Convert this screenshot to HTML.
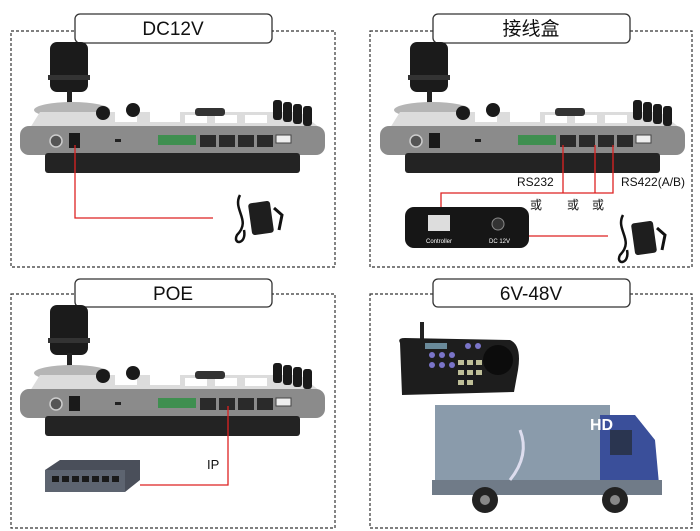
<!DOCTYPE html>
<html><head><meta charset="utf-8"><style>
html,body{margin:0;padding:0;background:#fff}
svg{display:block}
text{font-family:"Liberation Sans","Noto Sans CJK SC",sans-serif}
</style></head><body>
<svg width="700" height="531" viewBox="0 0 700 531" xmlns="http://www.w3.org/2000/svg">
<defs>
<g id="ctrl">
  <rect x="50" y="42" width="38" height="50" rx="7" fill="#1b1b1b"/>
  <rect x="48" y="75" width="42" height="5" fill="#333"/>
  <rect x="67" y="90" width="5" height="18" fill="#222"/>
  <ellipse cx="72" cy="110" rx="38" ry="8" fill="#b5b5b5"/>
  <path d="M30 128 L40 112 L300 112 L320 128 Z" fill="#dcdcdc"/>
  <rect x="115" y="112" width="22" height="10" fill="#fff"/>
  <rect x="150" y="112" width="30" height="10" fill="#fff"/>
  <rect x="185" y="115" width="22" height="8" fill="#fff"/>
  <rect x="215" y="115" width="22" height="8" fill="#fff"/>
  <rect x="245" y="115" width="22" height="8" fill="#fff"/>
  <rect x="195" y="108" width="30" height="8" rx="3" fill="#333"/>
  <circle cx="103" cy="113" r="7" fill="#1a1a1a"/>
  <circle cx="133" cy="110" r="7" fill="#1a1a1a"/>
  <rect x="273" y="100" width="9" height="20" rx="3" fill="#1a1a1a"/>
  <rect x="283" y="102" width="9" height="20" rx="3" fill="#1a1a1a"/>
  <rect x="293" y="104" width="9" height="20" rx="3" fill="#1a1a1a"/>
  <rect x="303" y="106" width="9" height="20" rx="3" fill="#1a1a1a"/>
  <rect x="20" y="126" width="305" height="29" rx="9" fill="#8b8b8b"/>
  <rect x="45" y="153" width="255" height="20" rx="3" fill="#232323"/>
  <circle cx="56" cy="141" r="6" fill="#555" stroke="#ccc" stroke-width="1.5"/>
  <rect x="69" y="133" width="11" height="15" fill="#1a1a1a"/>
  <rect x="115" y="139" width="6" height="3" fill="#222"/>
  <rect x="158" y="135" width="38" height="10" fill="#3f8f50"/>
  <rect x="200" y="135" width="16" height="12" fill="#2a2a2a"/>
  <rect x="219" y="135" width="16" height="12" fill="#2a2a2a"/>
  <rect x="238" y="135" width="16" height="12" fill="#2a2a2a"/>
  <rect x="257" y="135" width="16" height="12" fill="#2a2a2a"/>
  <rect x="276" y="135" width="15" height="8" fill="#eee" stroke="#444"/>
</g>
<g id="adapter">
  <path d="M8 5 C0 20 20 30 5 45 C0 55 15 55 12 40" stroke="#111" stroke-width="2.5" fill="none"/>
  <rect x="18" y="12" width="22" height="32" rx="3" fill="#1e1e1e" transform="rotate(-8 29 28)"/>
  <path d="M42 18 L50 25 L47 40" stroke="#111" stroke-width="3" fill="none"/>
</g>
</defs>

<g fill="none" stroke="#333" stroke-width="1.2" stroke-dasharray="3,2">
  <rect x="11" y="31" width="324" height="236"/>
  <rect x="370" y="31" width="322" height="236"/>
  <rect x="11" y="294" width="324" height="234"/>
  <rect x="370" y="294" width="322" height="234"/>
</g>

<g fill="#fff" stroke="#333" stroke-width="1.3">
  <rect x="75" y="14" width="197" height="29" rx="5"/>
  <rect x="433" y="14" width="197" height="29" rx="5"/>
  <rect x="75" y="279" width="197" height="28" rx="5"/>
  <rect x="433" y="279" width="197" height="28" rx="5"/>
</g>
<g font-size="19" fill="#111" text-anchor="middle">
  <text x="173" y="35">DC12V</text>
  <text x="531" y="35">接线盒</text>
  <text x="173" y="300">POE</text>
  <text x="531" y="300">6V-48V</text>
</g>

<!-- TL -->
<use href="#ctrl"/>
<path d="M75 145 V218 H213" stroke="#d22" stroke-width="1.3" fill="none"/>
<use href="#adapter" transform="translate(232,190)"/>

<!-- TR -->
<use href="#ctrl" transform="translate(360,0)"/>
<g stroke="#d22" stroke-width="1.3" fill="none">
  <path d="M563 145 V193"/>
  <path d="M595 145 V193"/>
  <path d="M613 145 V193 H441 V208"/>
  <path d="M523 236 H608"/>
</g>
<rect x="405" y="207" width="124" height="41" rx="9" fill="#161616"/>
<rect x="428" y="215" width="22" height="16" fill="#ddd"/>
<text x="426" y="243" font-size="6" fill="#fff">Controller</text>
<circle cx="498" cy="224" r="6" fill="#333" stroke="#888"/>
<text x="489" y="243" font-size="6" fill="#fff">DC 12V</text>
<g font-size="12" fill="#111">
  <text x="517" y="186">RS232</text>
  <text x="621" y="186">RS422(A/B)</text>
  <text x="530" y="209">或</text>
  <text x="567" y="209">或</text>
  <text x="592" y="209">或</text>
</g>
<use href="#adapter" transform="translate(615,210)"/>

<!-- BL -->
<use href="#ctrl" transform="translate(0,263)"/>
<path d="M228 406 V485 H140" stroke="#d22" stroke-width="1.3" fill="none"/>
<text x="207" y="469" font-size="13" fill="#111">IP</text>
<path d="M45 470 L60 460 L140 460 L140 480 L125 492 L45 492 Z" fill="#4a4f5a"/>
<rect x="45" y="470" width="80" height="22" fill="#5d6470"/>
<g fill="#1a1a1a"><rect x="52" y="476" width="7" height="6"/><rect x="62" y="476" width="7" height="6"/><rect x="72" y="476" width="7" height="6"/><rect x="82" y="476" width="7" height="6"/><rect x="92" y="476" width="7" height="6"/><rect x="102" y="476" width="7" height="6"/><rect x="112" y="476" width="7" height="6"/></g>

<!-- BR -->
<rect x="420" y="322" width="4" height="18" fill="#222"/>
<path d="M400 343 Q397 338 405 338 L510 340 Q522 345 518 370 L514 392 L402 395 Z" fill="#1d1d1d"/>
<circle cx="498" cy="360" r="15" fill="#0c0c0c"/>
<g fill="#7a74c8"><circle cx="432" cy="355" r="3"/><circle cx="442" cy="355" r="3"/><circle cx="452" cy="355" r="3"/><circle cx="432" cy="365" r="3"/><circle cx="442" cy="365" r="3"/><circle cx="452" cy="365" r="3"/><circle cx="468" cy="346" r="3"/><circle cx="478" cy="346" r="3"/></g>
<g fill="#bfbf98"><rect x="458" y="360" width="6" height="5"/><rect x="467" y="360" width="6" height="5"/><rect x="476" y="360" width="6" height="5"/><rect x="458" y="370" width="6" height="5"/><rect x="467" y="370" width="6" height="5"/><rect x="476" y="370" width="6" height="5"/><rect x="458" y="380" width="6" height="5"/><rect x="467" y="380" width="6" height="5"/></g>
<rect x="425" y="343" width="22" height="6" fill="#6a8a9a"/>
<rect x="435" y="405" width="175" height="90" fill="#8a9bab"/>
<path d="M600 415 L635 415 L655 440 L660 495 L600 495 Z" fill="#3a4f9a"/>
<rect x="610" y="430" width="22" height="25" fill="#2a3550"/>
<rect x="432" y="480" width="230" height="15" fill="#707b88"/>
<circle cx="485" cy="500" r="13" fill="#222"/><circle cx="485" cy="500" r="5" fill="#888"/>
<circle cx="615" cy="500" r="13" fill="#222"/><circle cx="615" cy="500" r="5" fill="#888"/>
<text x="590" y="430" font-size="16" fill="#fff" font-weight="bold">HD</text>
<path d="M520 430 Q530 455 510 480" stroke="#dde" stroke-width="3" fill="none"/>
</svg>
</body></html>
